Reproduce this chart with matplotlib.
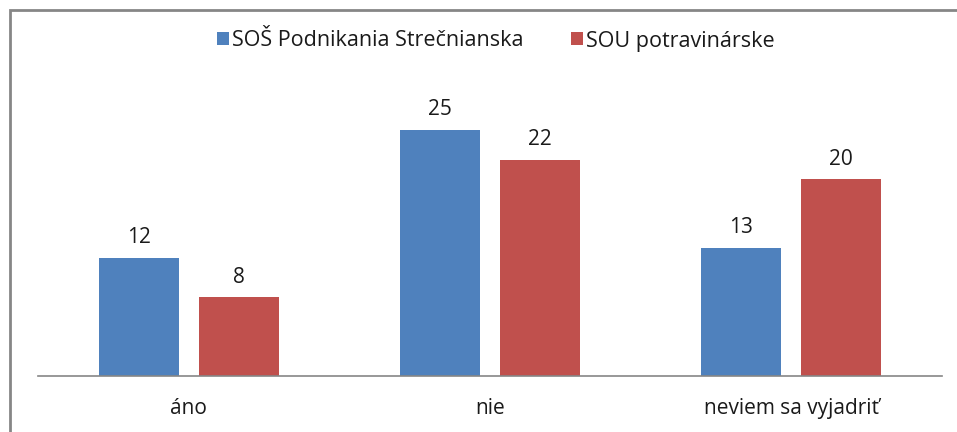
import matplotlib
matplotlib.use("Agg")
import matplotlib.pyplot as plt
import numpy as np
from matplotlib.patches import Rectangle

categories = ["áno", "nie", "neviem sa vyjadriť"]
series_names = ["SOŠ Podnikania Strečnianska", "SOU potravinárske"]
sos_values = [12, 25, 13]
sou_values = [8, 22, 20]

plt.rcParams['font.family'] = ['Open Sans', 'DejaVu Sans']

W, H = 957, 432
fig = plt.figure(figsize=(W/100, H/100), dpi=100)
ax = fig.add_axes([38/W, 56/H, (942-38)/W, 295/H])

x = np.arange(len(categories))
bw = 80/301.3
gap = 20/301.3
colors = ["#4F81BD", "#C0504D"]
b1 = ax.bar(x - (bw+gap)/2, sos_values, bw, color=colors[0], label=series_names[0])
b2 = ax.bar(x + (bw+gap)/2, sou_values, bw, color=colors[1], label=series_names[1])
for bars in (b1, b2):
    for r in bars:
        ax.annotate(f"{int(r.get_height())}", (r.get_x()+r.get_width()/2, r.get_height()),
                    xytext=(0, 7), textcoords="offset points", ha="center", va="bottom",
                    fontsize=15, color="#1a1a1a")

ax.set_xlim(-0.5, 2.5)
ax.set_ylim(0, 30)
ax.set_xticks(x)
ax.set_xticklabels(categories, fontsize=15, color="#1a1a1a")
ax.tick_params(axis='x', length=0, pad=16)
ax.set_yticks([])
for s in ["top", "right", "left"]:
    ax.spines[s].set_visible(False)
ax.spines["bottom"].set_color("#868686")
ax.spines["bottom"].set_linewidth(1.2)

leg = fig.legend(handles=[b1, b2], loc="center", bbox_to_anchor=(496/W, 1-41/H), ncol=2,
                 frameon=False, fontsize=15.5, handlelength=0.56, handleheight=0.56,
                 handletextpad=0.15, columnspacing=2.2, labelcolor="#1a1a1a")

fig.patches.append(Rectangle((9.5/W, -0.1), 2, 1 - 10.5/H + 0.1, transform=fig.transFigure,
                             fill=False, edgecolor="#868686", linewidth=2))

fig.savefig("out.png", dpi=100)
